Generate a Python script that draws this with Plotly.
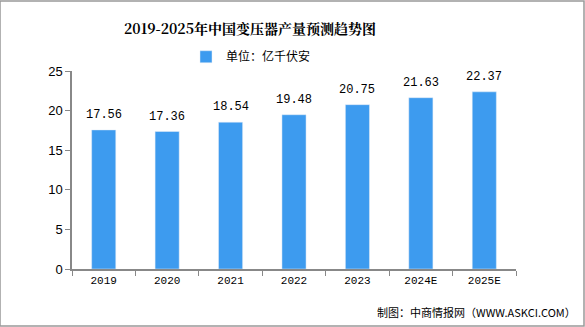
import plotly.graph_objects as go

categories = ["2019", "2020", "2021", "2022", "2023", "2024E", "2025E"]
values = [17.56, 17.36, 18.54, 19.48, 20.75, 21.63, 22.37]
value_labels = ["17.56", "17.36", "18.54", "19.48", "20.75", "21.63", "22.37"]
y_ticks = [0, 5, 10, 15, 20, 25]

fig = go.Figure()
fig.add_trace(go.Bar(
    x=categories, y=values, name="单位：亿千伏安",
    marker_color="#3D9BEF", width=0.38,
))

fig.update_layout(
    width=585, height=327,
    margin=dict(l=72, r=69, t=71, b=58),
    paper_bgcolor="white", plot_bgcolor="white",
    font=dict(family="Noto Sans CJK SC, sans-serif", color="#000000"),
    title=dict(text="<b>2019-2025年中国变压器产量预测趋势图</b>",
               x=250/585, xref="container", xanchor="center", y=0.912, yanchor="middle",
               font=dict(size=14, family="Noto Serif CJK SC, Noto Sans CJK SC, serif", color="#000")),
    showlegend=True,
    legend=dict(orientation="h", x=(186-72)/444, xref="paper", xanchor="left", y=1.072, yanchor="middle",
                font=dict(size=12), itemwidth=30),
    bargap=0.62,
    xaxis=dict(type="category", showline=True, linecolor="#888888", linewidth=1.5,
               ticks="outside", tickson="boundaries", ticklen=5, tickcolor="#888888",
               tickfont=dict(size=11, family="Liberation Mono, monospace"), showgrid=False),
    yaxis=dict(range=[0, 25], tickvals=y_ticks, showline=True, linecolor="#888888", linewidth=1.5,
               ticks="outside", ticklen=5, tickcolor="#888888", showgrid=False, zeroline=False,
               tickfont=dict(size=13, family="Liberation Sans, sans-serif")),
    shapes=[dict(type="rect", xref="paper", yref="paper", x0=-72/444, x1=1 + 68/444,
                 y0=-57/198, y1=1 + 70/198, line=dict(color="#999999", width=1.5))],
)

for i, (v, t) in enumerate(zip(values, value_labels)):
    fig.add_annotation(x=i, y=v, text=t, showarrow=False, yanchor="bottom", yshift=6,
                       font=dict(size=12, color="#000000", family="Liberation Mono, monospace"))

fig.add_annotation(text="制图：中商情报网（WWW.ASKCI.COM）", xref="paper", yref="paper",
                   x=1 + 62/444, xanchor="right", y=-43/198, yanchor="middle",
                   showarrow=False, font=dict(size=11, color="#000", family="Noto Sans CJK SC, sans-serif"))

fig.write_html("out.html")
